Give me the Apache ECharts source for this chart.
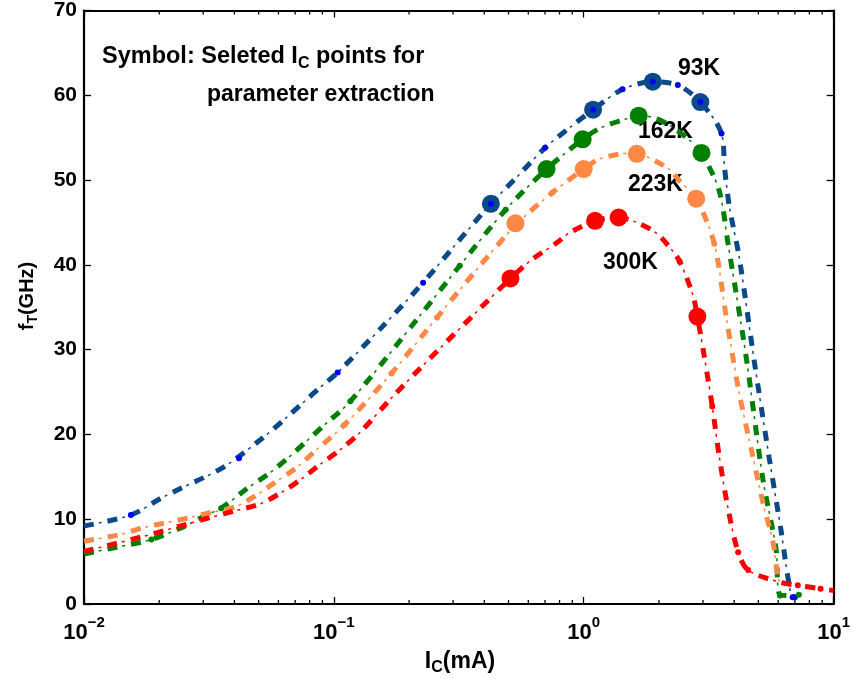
<!DOCTYPE html>
<html><head><meta charset="utf-8">
<script src="https://cdn.jsdelivr.net/npm/echarts@6/dist/echarts.min.js"></script>
<style>html,body{margin:0;padding:0;background:#fff}#c{width:853px;height:679px}</style>
</head><body><div id="c"></div>
<script>
// ---- axis ticks ----
const xMajorTicks = [0.01, 0.1, 1, 10];
const xMinorTicks = [0.02,0.03,0.04,0.05,0.06,0.07,0.08,0.09,0.2,0.3,0.4,0.5,0.6,0.7,0.8,0.9,2,3,4,5,6,7,8,9];
const yTicks = [0,10,20,30,40,50,60,70];

// ---- 93K ----
const x93 = [0.01,0.0154,0.0204,0.025,0.0306,0.0374,0.0535,0.0636,0.075,0.0886,0.1036,0.155,0.2276,0.305,0.425,0.55,0.7,0.88,1.09,1.43,1.89,2.38,2.93,3.56,3.66,3.83,4.19,4.81,5.52,6.16,6.57,6.86,7.1];
const y93 = [9.2,10.5,12.5,13.8,15.0,16.4,19.9,21.8,23.7,25.6,27.3,32.6,37.9,42.3,47.2,50.6,53.8,56.2,58.3,60.7,61.6,61.2,59.2,55.5,51.5,46.8,40.9,28.7,17.3,8.7,3.1,0.8,0.8];
const mark93X = [0.425,1.09,1.89,2.93];
const mark93Y = [47.2,58.3,61.6,59.2];
const dot93X = [0.0154,0.0417,0.1036,0.2276,0.425,0.7,1.09,1.43,1.89,2.38,2.93,3.56,6.86,7.0];
const dot93Y = [10.5,17.2,27.3,37.9,47.2,53.8,58.3,60.7,61.6,61.2,59.2,55.5,0.8,0.8];

// ---- 162K ----
const x162 = [0.01,0.0135,0.0186,0.025,0.0309,0.0354,0.0453,0.0545,0.0654,0.0771,0.0915,0.1164,0.221,0.319,0.487,0.71,0.99,1.16,1.52,1.8,2.2,2.65,2.96,3.48,3.78,4.47,5.22,5.89,6.04,6.5,7.26];
const y162 = [5.9,6.7,7.6,9.1,10.5,11.3,13.7,15.3,17.2,19.1,21.1,23.9,34.0,39.9,46.5,51.3,54.8,56.1,57.3,57.5,56.5,54.7,53.2,48.8,42.5,29.1,14.6,6.4,1.3,1.0,1.1];
const mark162X = [0.71,0.99,1.66,2.96];
const mark162Y = [51.3,54.8,57.6,53.2];
const dot162X = [0.0186,0.0354,0.1164,0.319,0.487,6.1,7.26];
const dot162Y = [7.6,11.3,23.9,39.9,46.5,1.0,1.1];

// ---- 223K ----
const x223 = [0.01,0.014,0.0173,0.0266,0.0323,0.0406,0.0488,0.0585,0.0703,0.0845,0.110,0.170,0.259,0.377,0.543,0.748,1.0,1.16,1.55,2.15,2.42,2.82,3.33,3.72,4.19,4.76,5.22,5.73,6.04,6.4];
const y223 = [7.4,8.2,9.0,10.2,10.8,11.5,12.8,14.4,16.0,18.1,21.1,27.2,33.8,39.6,44.9,48.5,51.3,52.5,53.2,51.5,49.9,47.8,42.5,33.8,24.9,17.3,11.9,7.2,2.8,2.2];
const mark223X = [0.533,1.0,1.63,2.82];
const mark223Y = [44.9,51.3,53.1,47.8];
const dot223X = [0.110,0.170,0.259,0.748,3.33];
const dot223Y = [21.1,27.2,33.8,48.5,42.5];

// ---- 300K ----
const x300 = [0.01,0.0169,0.0257,0.032,0.0403,0.0506,0.0613,0.073,0.0876,0.105,0.126,0.170,0.232,0.377,0.509,0.612,0.78,0.88,1.11,1.38,1.63,1.96,2.29,2.42,2.58,2.75,2.85,3.01,3.27,3.49,3.79,4.15,4.55,6.04,7.19,8.87,10];
const y300 = [6.2,7.9,9.4,10.2,11.0,11.8,13.1,14.6,16.4,18.1,20.1,24.3,28.4,34.6,38.4,40.5,42.6,43.8,45.2,45.6,45.0,43.7,41.5,40.4,38.5,36.2,33.9,29.9,23.3,17.3,11.1,6.1,4.0,2.6,2.2,1.8,1.6];
const mark300X = [0.509,1.11,1.38,2.85];
const mark300Y = [38.4,45.2,45.6,33.9];
const dot300X = [2.42,3.27,4.15,4.55,7.19,8.87];
const dot300Y = [40.4,23.3,6.1,4.0,2.2,1.8];

const FONT = "'Liberation Sans', Arial, Helvetica, sans-serif";
const zip = (a, b) => a.map((v, i) => [v, b[i]]);

const curves = [
  {x:x93, y:y93, mx:mark93X, my:mark93Y, dx:dot93X, dy:dot93Y, color:'#0a4a8a', dotColor:'#0000ff'},
  {x:x162, y:y162, mx:mark162X, my:mark162Y, dx:dot162X, dy:dot162Y, color:'#007f00', dotColor:'#007f00'},
  {x:x223, y:y223, mx:mark223X, my:mark223Y, dx:dot223X, dy:dot223Y, color:'#ff8844', dotColor:'#ff8844'},
  {x:x300, y:y300, mx:mark300X, my:mark300Y, dx:dot300X, dy:dot300Y, color:'#ff0000', dotColor:'#ff0000'}
];

const series = [];
curves.forEach((c, i) => {
  const data = zip(c.x, c.y);
  series.push({type:'line', data, smooth:0.3, symbol:'none', silent:true, z:2+i,
    lineStyle:{color:c.color, width:5, type:[10,14], cap:'butt'}});
  series.push({type:'line', data, smooth:0.3, symbol:'none', silent:true, z:2+i,
    lineStyle:{color:c.color, width:1.5, type:[3,21], dashOffset:9, cap:'butt'}});
  series.push({type:'scatter', data:zip(c.mx, c.my), symbol:'circle', symbolSize:18, silent:true, z:6+i,
    itemStyle:{color:c.color, opacity:1}});
  series.push({type:'scatter', data:zip(c.dx, c.dy), symbol:'circle', symbolSize:6, silent:true, z:10+i,
    itemStyle:{color:c.dotColor, opacity:1}});
});
series.push({type:'custom', silent:true, z:20,
  data: xMinorTicks.map(v => [v, 0]),
  renderItem: (params, api) => {
    const v = api.value(0);
    const b = api.coord([v, 0]);
    const t = api.coord([v, 70]);
    return {type:'group', children:[
      {type:'line', shape:{x1:b[0], y1:b[1], x2:b[0], y2:b[1]-4}, style:{stroke:'#000', lineWidth:1.3}},
      {type:'line', shape:{x1:t[0], y1:t[1], x2:t[0], y2:t[1]+4}, style:{stroke:'#000', lineWidth:1.3}}
    ]};
  }
});

const axisLine = {show:true, onZero:false, lineStyle:{color:'#000', width:2.2}};
const axisTick = {show:true, inside:true, length:7, lineStyle:{color:'#000', width:1.3}};
const expLabel = v => {
  const e = Math.round(Math.log10(v));
  return '{b|10}{s|' + (e < 0 ? '\u2212' + (-e) : e) + '}';
};

const sub = (size) => ({
  a:{fontSize:size, fontWeight:'bold', fontFamily:FONT, color:'#000', lineHeight:size+3, verticalAlign:'top', padding:[0,0,7,0]},
  s:{fontSize:Math.round(size*0.7), fontWeight:'bold', fontFamily:FONT, color:'#000', lineHeight:Math.round(size*0.7), verticalAlign:'bottom'}
});
const labelStyle = (t) => ({text:t, fontSize:23, fontWeight:'bold', fontFamily:FONT, fill:'#000', align:'left', verticalAlign:'middle'});

const option = {
  animation:false,
  backgroundColor:'#fff',
  grid:{left:84, right:15, top:9.5, bottom:75},
  xAxis:[
    {type:'log', logBase:10, min:0.01, max:10, position:'bottom', axisLine, axisTick,
      splitLine:{show:false},
      axisLabel:{formatter:expLabel, margin:11, customValues:xMajorTicks,
        rich:{b:{fontSize:22, fontWeight:'bold', fontFamily:FONT, color:'#000', lineHeight:29, verticalAlign:'bottom'},
              s:{fontSize:15, fontWeight:'bold', fontFamily:FONT, color:'#000', lineHeight:15, verticalAlign:'top'}}}},
    {type:'log', logBase:10, min:0.01, max:10, position:'top', axisLine, axisTick,
      splitLine:{show:false}, axisLabel:{show:false}}
  ],
  yAxis:[
    {type:'value', min:0, max:70, interval:10, position:'left', axisLine, axisTick, splitLine:{show:false},
      axisLabel:{fontSize:21, fontWeight:'bold', fontFamily:FONT, color:'#000', margin:7}},
    {type:'value', min:0, max:70, interval:10, position:'right', axisLine, axisTick, splitLine:{show:false},
      axisLabel:{show:false}}
  ],
  graphic:[
    {type:'text', left:102, top:45, style:{text:'{a|Symbol: Seleted I}{s|C}{a| points for}', rich:sub(23.5)}},
    {type:'text', x:207, y:95, style:{text:'parameter extraction', fontSize:23, fontWeight:'bold', fontFamily:FONT, fill:'#000', align:'left', verticalAlign:'middle'}},
    {type:'text', x:678, y:69, style:labelStyle('93K')},
    {type:'text', x:638, y:132, style:labelStyle('162K')},
    {type:'text', x:628, y:185, style:labelStyle('223K')},
    {type:'text', x:603, y:263, style:labelStyle('300K')},
    {type:'text', x:460, y:663, style:{text:'{a|I}{s|C}{a|(mA)}', rich:sub(23), align:'center', verticalAlign:'middle'}},
    {type:'text', x:29, y:296, rotation:Math.PI/2, style:{text:'{a|f}{s|T}{a|(GHz)}', rich:sub(20), align:'center', verticalAlign:'middle'}}
  ],
  series
};
const chart = echarts.init(document.getElementById('c'), null, {renderer:'canvas'});
chart.setOption(option);
</script>
</body></html>
